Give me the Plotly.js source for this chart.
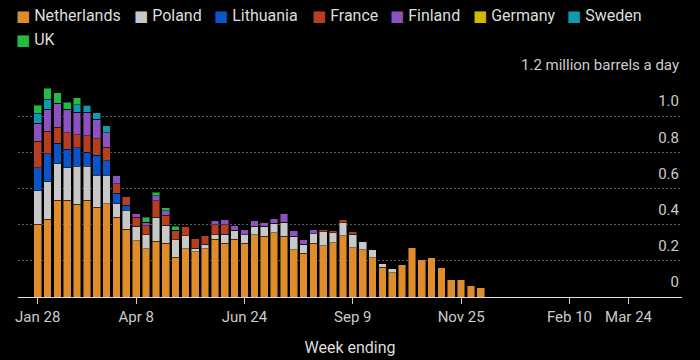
<!DOCTYPE html>
<html><head><meta charset="utf-8">
<script src="https://cdn.plot.ly/plotly-3.0.1.min.js"></script>
<style>html,body{margin:0;padding:0;background:#000;} #chart{width:700px;height:360px;}</style>
</head><body><div id="chart"></div>
<script>
// Week ending (Fridays)
const weeks = ['2022-01-28','2022-02-04','2022-02-11','2022-02-18','2022-02-25','2022-03-04','2022-03-11','2022-03-18','2022-03-25','2022-04-01',
  '2022-04-08','2022-04-15','2022-04-22','2022-04-29','2022-05-06','2022-05-13','2022-05-20','2022-05-27','2022-06-03','2022-06-10',
  '2022-06-17','2022-06-24','2022-07-01','2022-07-08','2022-07-15','2022-07-22','2022-07-29','2022-08-05','2022-08-12','2022-08-19',
  '2022-08-26','2022-09-02','2022-09-09','2022-09-16','2022-09-23','2022-09-30','2022-10-07','2022-10-14','2022-10-21','2022-10-28',
  '2022-11-04','2022-11-11','2022-11-18','2022-11-25','2022-12-02','2022-12-09'];

const netherlands = [0.403,0.429,0.536,0.536,0.512,0.536,0.497,0.517,0.442,0.376,
  0.311,0.267,0.309,0.298,0.221,0.267,0.249,0.267,0.320,0.296,
  0.320,0.298,0.343,0.337,0.355,0.337,0.260,0.241,0.296,0.283,
  0.300,0.339,0.271,0.260,0.217,0.165,0.133,0.180,0.271,0.210,
  0.219,0.162,0.096,0.096,0.066,0.050];
const poland = [0.185,0.208,0.202,0.180,0.210,0.186,0.177,0.157,0.075,0.105,
  0.081,0.076,0.131,0.100,0.097,0.073,0.020,0.024,0.023,0.052,
  0.048,0.045,0.049,0.053,0.054,0.077,0.077,0.050,0.054,0.078,
  0.055,0.073,0.077,0.047,0.048,0.023,0.023,0,0,0,
  0,0,0,0,0,0];
const lithuania = [0.127,0.156,0.113,0.102,0.103,0.079,0.111,0.079,0.058,0.027,
  0,0,0,0,0,0,0,0,0,0,
  0,0,0,0,0,0,0,0,0,0,
  0,0,0,0,0,0,0,0,0,0,
  0,0,0,0,0,0];
const france = [0.146,0.124,0.088,0.091,0.072,0.090,0.090,0.076,0.051,0.046,
  0.050,0.051,0.092,0.055,0.050,0.050,0.055,0.049,0.057,0.052,
  0,0,0,0,0,0,0,0,0,0.011,
  0.011,0.015,0.013,0,0,0,0,0,0,0,
  0,0,0,0,0,0];
const finland = [0.099,0.122,0.133,0.130,0.125,0.131,0.108,0.080,0.048,0,
  0.022,0.020,0.029,0.024,0,0,0,0,0.022,0.027,
  0.030,0.029,0.030,0.024,0.024,0.050,0.029,0.027,0.022,0,
  0,0,0,0,0,0,0,0,0,0,
  0,0,0,0,0,0];
const germany = [0,0,0,0,0,0,0,0,0,0,
  0,0,0,0,0,0,0,0,0,0,
  0,0,0,0,0,0,0,0,0,0,
  0,0,0,0,0,0,0,0,0,0,
  0,0,0,0,0,0];
const sweden = [0.057,0.055,0,0,0.042,0.039,0.035,0.037,0,0,
  0,0,0,0,0,0,0,0,0,0,
  0,0,0,0,0,0,0,0,0,0,
  0,0,0,0,0,0,0,0,0,0,
  0,0,0,0,0,0];
const uk = [0.043,0.061,0.058,0.038,0.037,0,0,0,0,0,
  0,0.026,0.017,0.016,0.022,0,0,0,0,0,
  0,0,0,0,0,0,0,0,0,0,
  0,0,0,0,0,0,0,0,0,0,
  0,0,0,0,0,0];

const seriesNames = ['Netherlands','Poland','Lithuania','France','Finland','Germany','Sweden','UK'];
const seriesValues = [netherlands, poland, lithuania, france, finland, germany, sweden, uk];
const seriesColors = ['#DF8C2A','#C8C8C8','#0A55C8','#B5401F','#8E52C0','#D4B800','#0E9AB0','#22BB44'];

const yTickVals = [0, 0.2, 0.4, 0.6, 0.8, 1.0, 1.2];
const yTickText = ['0', '0.2', '0.4', '0.6', '0.8', '1.0', '1.2 million barrels a day'];
const xTickVals = ['2022-01-28','2022-04-08','2022-06-24','2022-09-09','2022-11-25','2023-02-10','2023-03-24'];
const xTickText = ['Jan 28','Apr 8','Jun 24','Sep 9','Nov 25','Feb 10','Mar 24'];

// legend layout (pixel positions of items)
const legendX = [16, 134, 214, 312, 390, 473, 567, 16];
const legendRowY = [15.5, 15.5, 15.5, 15.5, 15.5, 15.5, 15.5, 39.5];

const FONT = 'Roboto, "DejaVu Sans", sans-serif';
const PLOT_LEFT = 18, PLOT_TOP = 80;

const traces = seriesNames.map((name, i) => ({
  type: 'bar',
  name: name,
  x: weeks,
  y: seriesValues[i],
  marker: { color: seriesColors[i], line: { color: 'rgba(0,0,0,0.45)', width: 1 } },
  hoverinfo: 'skip'
}));

const annotations = seriesNames.map((name, i) => ({
  xref: 'paper', yref: 'paper', x: 0, y: 1,
  xanchor: 'left', yanchor: 'middle',
  xshift: legendX[i] - PLOT_LEFT - 2,
  yshift: PLOT_TOP - legendRowY[i],
  showarrow: false,
  text: '<span style="color:' + seriesColors[i] + ';font-family:DejaVu Sans;font-size:15px">■</span> ' + name,
  font: { family: FONT, size: 16, color: '#dddddd' }
}));

const layout = {
  width: 700, height: 360,
  paper_bgcolor: '#000', plot_bgcolor: '#000',
  margin: { l: 18, r: 18, t: 80, b: 63, pad: 0 },
  barmode: 'stack', bargap: 0.22,
  showlegend: false,
  font: { family: FONT, color: '#cccccc', size: 15 },
  xaxis: {
    type: 'date', range: ['2022-01-14', '2023-05-01'],
    tickvals: xTickVals, ticktext: xTickText,
    ticks: 'outside', ticklen: 6, tickcolor: '#cccccc', tickwidth: 1,
    showline: true, linecolor: '#dddddd', linewidth: 1,
    showgrid: false, zeroline: false,
    tickfont: { family: FONT, size: 15, color: '#cccccc' },
    title: { text: 'Week ending', font: { family: FONT, size: 16, color: '#dddddd' }, standoff: 16 }
  },
  yaxis: {
    range: [0, 1.2], side: 'right',
    tickvals: yTickVals, ticktext: yTickText,
    ticklabelposition: 'inside', ticklabeloverflow: 'allow', ticklabelshift: -15,
    ticks: '', showgrid: true, gridcolor: '#5a5a5a', griddash: '2px,2px', gridwidth: 1,
    zeroline: false, showline: false,
    tickfont: { family: FONT, size: 15, color: '#cccccc' }
  },
  annotations: annotations
};

Plotly.newPlot('chart', traces, layout, { displayModeBar: false, staticPlot: true });
</script>
</body></html>
